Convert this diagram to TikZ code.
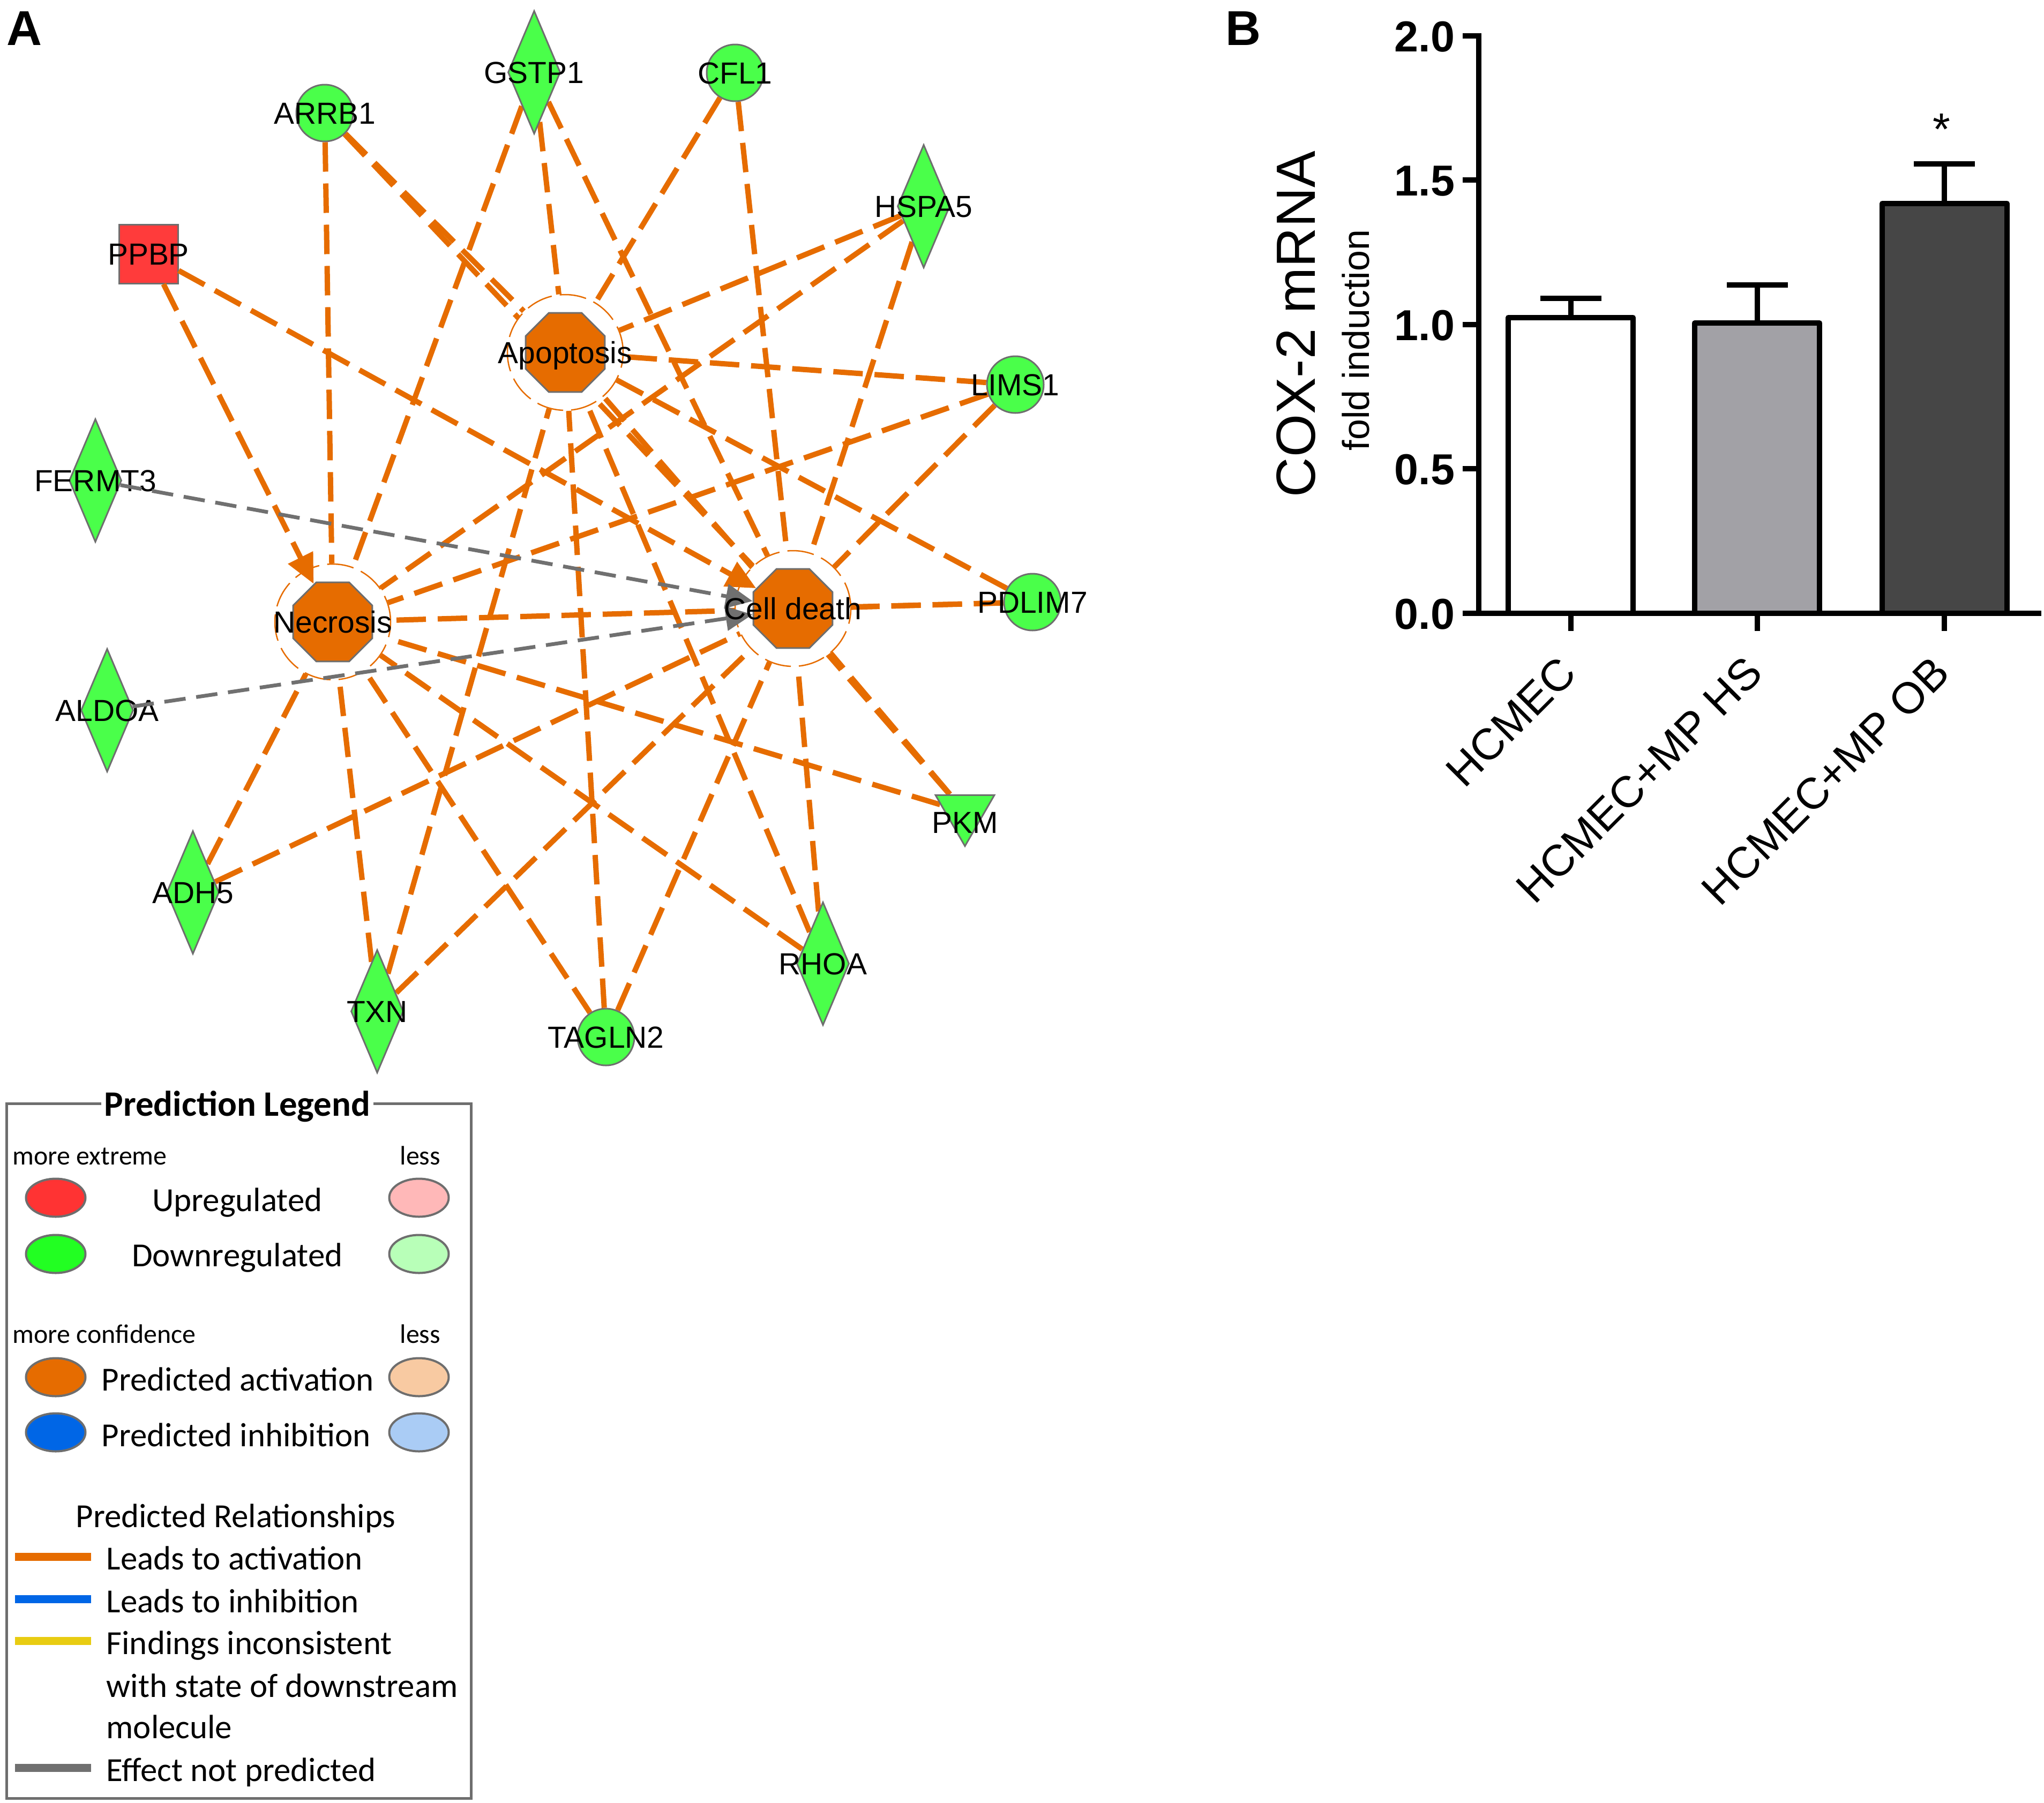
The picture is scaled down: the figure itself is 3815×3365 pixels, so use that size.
\documentclass[tikz,border=0pt]{standalone}
\usepackage{fontspec}
\setmainfont{Liberation Sans}
\newfontfamily\legendfont{Carlito}
\usetikzlibrary{shapes.geometric,arrows.meta,backgrounds}
\definecolor{ipaorange}{RGB}{230,108,0}
\definecolor{genegreen}{RGB}{74,255,74}
\definecolor{genered}{RGB}{255,59,59}
\definecolor{nodeedge}{RGB}{110,110,110}
\definecolor{edgegray}{RGB}{112,112,112}
\definecolor{legred}{RGB}{255,51,51}
\definecolor{legredlight}{RGB}{255,184,184}
\definecolor{leggreen}{RGB}{34,255,34}
\definecolor{leggreenlight}{RGB}{184,255,184}
\definecolor{legorangelight}{RGB}{248,202,162}
\definecolor{legblue}{RGB}{0,102,230}
\definecolor{legbluelight}{RGB}{170,204,245}
\definecolor{legyellow}{RGB}{232,204,18}
\definecolor{barmid}{RGB}{162,161,166}
\definecolor{bardark}{RGB}{70,70,70}
\newcommand{\genefont}{\fontsize{16.2pt}{16.2pt}\selectfont}
\newcommand{\legfont}{\legendfont\fontsize{17.9pt}{17.9pt}\selectfont}
\newcommand{\legsmall}{\legendfont\fontsize{14.2pt}{14.2pt}\selectfont}

\begin{document}
\begin{tikzpicture}[x=0.1mm, y=-0.1mm,
    gene/.style={draw=nodeedge, line width=0.3mm, fill=genegreen, inner sep=0pt},
    gcircle/.style={gene, circle, minimum size=10.6mm},
    gdiamond/.style={gene, diamond, minimum width=9.8mm, minimum height=23mm},
    glabel/.style={font=\genefont, text height=11.6pt, text depth=0pt, inner sep=0pt},
    func/.style={regular polygon, regular polygon sides=8, minimum size=16mm, inner sep=0pt,
      fill=ipaorange, draw=nodeedge, line width=0.3mm},
    halo/.style={circle, minimum size=21.6mm, inner sep=0pt, fill=white, draw=ipaorange,
      line width=0.25mm, dash pattern=on 5mm off 1.5mm},
    rel/.style={draw=ipaorange, line width=1mm, dash pattern=on 5.5mm off 2.2mm},
    act/.style={rel, -{Triangle[length=5.5mm, width=5mm]}},
    nopred/.style={draw=edgegray, line width=0.7mm, dash pattern=on 4mm off 2mm,
      -{Triangle[length=5mm, width=4.5mm]}},
    legdot/.style={ellipse, draw=nodeedge, line width=0.4mm, minimum width=11.1mm, minimum height=7.1mm, inner sep=0pt},
    legtext/.style={font=\legfont, inner sep=0pt},
    bar/.style={draw=black, line width=1mm, line join=round},
    ticklabel/.style={font=\bfseries\fontsize{23pt}{23pt}\selectfont, text height=16.5pt, text depth=0pt, inner sep=0pt, anchor=east},
    grouplabel/.style={font=\fontsize{23.3pt}{23.3pt}\selectfont, text height=16.7pt, text depth=0pt, inner sep=0pt, rotate=45, anchor=east},
  ]
  \useasboundingbox (0,0) rectangle (3815,3365);

  \node(panelA)[font=\bfseries\fontsize{26pt}{26pt}\selectfont, text height=18.7pt, text depth=0pt, inner sep=0pt] at (45,52) {A};

  \begin{scope}
    % molecules
    \node(arrb1)[gcircle, label={[glabel, name=arrb1text]center:ARRB1}] at (606,211) {};
    \node(gstp1)[gdiamond, label={[glabel, name=gstp1text]center:GSTP1}] at (997,135) {};
    \node(cfl1)[gcircle, label={[glabel, name=cfl1text]center:CFL1}] at (1372,136) {};
    \node(hspa5)[gdiamond, label={[glabel, name=hspa5text]center:HSPA5}] at (1724,385) {};
    \node(ppbp)[gene, rectangle, fill=genered, minimum size=11mm, label={[glabel, name=ppbptext]center:PPBP}] at (277,474) {};
    \node(lims1)[gcircle, label={[glabel, name=lims1text]center:LIMS1}] at (1895,718) {};
    \node(fermt3)[gdiamond, label={[glabel, name=fermt3text]center:FERMT3}] at (178,897) {};
    \node(pdlim7)[gcircle, label={[glabel, name=pdlim7text]center:PDLIM7}] at (1927,1124) {};
    \node(aldoa)[gdiamond, label={[glabel, name=aldoatext]center:ALDOA}] at (200,1326) {};
    \node(pkm)[gene, regular polygon, regular polygon sides=3, shape border rotate=180, minimum size=12.7mm,
      label={[glabel, name=pkmtext, yshift=-1.9mm]center:PKM}] at (1801,1516) {};
    \node(adh5)[gdiamond, label={[glabel, name=adh5text]center:ADH5}] at (360,1666) {};
    \node(txn)[gdiamond, label={[glabel, name=txntext]center:TXN}] at (704,1888) {};
    \node(tagln2)[gcircle, label={[glabel, name=tagln2text]center:TAGLN2}] at (1131,1936) {};
    \node(rhoa)[gdiamond, label={[glabel, name=rhoatext]center:RHOA}] at (1536,1799) {};
  \end{scope}

  \begin{scope}
    % functions
    \node(apoptosisring)[halo] at (1055,658) {};
    \node(necrosisring)[halo] at (621,1161) {};
    \node(celldeathring)[halo] at (1480,1136) {};
    \node(apoptosis)[func] at (apoptosisring) {};
    \node(necrosis)[func] at (necrosisring) {};
    \node(celldeath)[func] at (celldeathring) {};
  \end{scope}

  \begin{scope}[on background layer]
    \path (arrb1)  edge[rel] (apoptosisring);
    \path (arrb1)  edge[rel] (necrosisring);
    \path (arrb1)  edge[rel] (celldeathring);
    \path (gstp1)  edge[rel] (apoptosisring);
    \path (gstp1)  edge[rel] (necrosisring);
    \path (gstp1)  edge[rel] (celldeathring);
    \path (cfl1)   edge[rel] (apoptosisring);
    \path (cfl1)   edge[rel] (celldeathring);
    \path (hspa5)  edge[rel] (apoptosisring);
    \path (hspa5)  edge[rel] (necrosisring);
    \path (hspa5)  edge[rel] (celldeathring);
    \path (lims1)  edge[rel] (apoptosisring);
    \path (lims1)  edge[rel] (necrosisring);
    \path (lims1)  edge[rel] (celldeathring);
    \path (pdlim7) edge[rel] (apoptosisring);
    \path (pdlim7) edge[rel] (necrosisring);
    \path (pdlim7) edge[rel] (celldeathring);
    \path (pkm)    edge[rel] (apoptosisring);
    \path (pkm)    edge[rel] (necrosisring);
    \path (pkm)    edge[rel] (celldeathring);
    \path (adh5)   edge[rel] (necrosisring);
    \path (adh5)   edge[rel] (celldeathring);
    \path (txn)    edge[rel] (apoptosisring);
    \path (txn)    edge[rel] (necrosisring);
    \path (txn)    edge[rel] (celldeathring);
    \path (tagln2) edge[rel] (apoptosisring);
    \path (tagln2) edge[rel] (necrosisring);
    \path (tagln2) edge[rel] (celldeathring);
    \path (rhoa)   edge[rel] (apoptosisring);
    \path (rhoa)   edge[rel] (necrosisring);
    \path (rhoa)   edge[rel] (celldeathring);
  \end{scope}
  \path (ppbp)   edge[act] (necrosis);
  \path (ppbp)   edge[act] (celldeath);
  \path (fermt3) edge[nopred] (celldeath);
  \path (aldoa)  edge[nopred] (celldeath);
  % names of the functions, over the arrow tips
  \node(apoptosistext)[glabel] at (apoptosis) {Apoptosis};
  \node(necrosistext)[glabel] at (necrosis) {Necrosis};
  \node(celldeathtext)[glabel] at (celldeath) {Cell death};

  \begin{scope}
    % legend
    \node(legend)[draw=nodeedge, line width=0.5mm, minimum width=86.7mm, minimum height=129.7mm,
      anchor=north west, inner sep=0pt] at (10,2058) {};
    \node(legendtitle)[fill=white, inner xsep=0.6mm, inner ysep=0.3mm, anchor=base,
      font=\legendfont\bfseries\fontsize{19pt}{19pt}\selectfont] at (443,2083) {Prediction Legend};
    \node(extreme)[font=\legsmall, inner sep=0pt, anchor=base west] at (23,2174) {more extreme};
    \node(lessA)[font=\legsmall, inner sep=0pt, anchor=base west] at (746,2174) {less};
    \node(upbig)[legdot, fill=legred] at (104,2236) {};
    \node(uplight)[legdot, fill=legredlight] at (782,2236) {};
    \node(uptext)[legtext, anchor=base] at (443,2261) {Upregulated};
    \node(downbig)[legdot, fill=leggreen] at (104,2341) {};
    \node(downlight)[legdot, fill=leggreenlight] at (782,2341) {};
    \node(downtext)[legtext, anchor=base] at (443,2364) {Downregulated};
    \node(confidence)[font=\legsmall, inner sep=0pt, anchor=base west] at (23,2507) {more confidence};
    \node(lessB)[font=\legsmall, inner sep=0pt, anchor=base west] at (746,2507) {less};
    \node(actbig)[legdot, fill=ipaorange] at (104,2571) {};
    \node(actlight)[legdot, fill=legorangelight] at (782,2571) {};
    \node(acttext)[legtext, anchor=base west] at (189,2596) {Predicted activation};
    \node(inhbig)[legdot, fill=legblue] at (104,2674) {};
    \node(inhlight)[legdot, fill=legbluelight] at (782,2674) {};
    \node(inhtext)[legtext, anchor=base west] at (189,2700) {Predicted inhibition};
    \node(reltitle)[legtext, anchor=base] at (440,2851) {Predicted Relationships};
    \draw[ipaorange, line width=1.5mm] (28,2906) -- (170,2906);
    \draw[legblue, line width=1.5mm] (28,2985) -- (170,2985);
    \draw[legyellow, line width=1.5mm] (28,3063) -- (170,3063);
    \draw[edgegray, line width=1.5mm] (28,3300) -- (170,3300);
    \node(leadsact)[legtext, anchor=base west] at (198,2930) {Leads to activation};
    \node(leadsinh)[legtext, anchor=base west] at (198,3010) {Leads to inhibition};
    \node(findA)[legtext, anchor=base west] at (198,3088) {Findings inconsistent};
    \node(findB)[legtext, anchor=base west] at (198,3168) {with state of downstream};
    \node(findC)[legtext, anchor=base west] at (198,3245) {molecule};
    \node(noeffect)[legtext, anchor=base west] at (198,3325) {Effect not predicted};
  \end{scope}

  \begin{scope}
    % COX-2 bar chart
    \node(panelB)[font=\bfseries\fontsize{26pt}{26pt}\selectfont, text height=18.7pt, text depth=0pt, inner sep=0pt] at (2320,52) {B};
    \draw[bar, fill=white] (2815,1145) -- (2815,593) -- (3048,593) -- (3048,1145);
    \draw[bar, fill=barmid] (3163,1145) -- (3163,603) -- (3396,603) -- (3396,1145);
    \draw[bar, fill=bardark] (3513,1145) -- (3513,380) -- (3746,380) -- (3746,1145);
    \draw[bar] (2932,593) -- (2932,557) (2875,557) -- (2989,557);
    \draw[bar] (3280,603) -- (3280,532) (3223,532) -- (3337,532);
    \draw[bar] (3629,380) -- (3629,306) (3572,306) -- (3686,306);
    \draw[line width=1mm] (2730,67) -- (2760,67) -- (2760,1145) -- (3810,1145);
    \draw[line width=1mm] (2730,336) -- (2760,336) (2730,606) -- (2760,606)
      (2730,875) -- (2760,875) (2730,1145) -- (2760,1145);
    \draw[line width=1mm] (2932,1145) -- (2932,1178) (3280,1145) -- (3280,1178) (3629,1145) -- (3629,1178);
    \node(tickA)[ticklabel] at (2716,67) {2.0};
    \node(tickB)[ticklabel] at (2716,336) {1.5};
    \node(tickC)[ticklabel] at (2716,606) {1.0};
    \node(tickD)[ticklabel] at (2716,875) {0.5};
    \node(tickE)[ticklabel] at (2716,1145) {0.0};
    \node(ytitle)[rotate=90, inner sep=0pt, font=\fontsize{29.3pt}{29.3pt}\selectfont, text height=21pt, text depth=0pt] at (2418,605) {COX-2 mRNA};
    \node(ysub)[rotate=90, inner sep=0pt, font=\fontsize{19.9pt}{19.9pt}\selectfont, text height=14.3pt, text depth=0pt] at (2530,635) {fold induction};
    \node(groupA)[grouplabel] at (2926,1240) {HCMEC};
    \node(groupB)[grouplabel] at (3274,1240) {HCMEC+MP HS};
    \node(groupC)[grouplabel] at (3623,1240) {HCMEC+MP OB};
    \node(signif)[inner sep=0pt, anchor=base, font=\fontsize{24pt}{24pt}\selectfont] at (3624,270) {*};
  \end{scope}
\end{tikzpicture}
\end{document}
